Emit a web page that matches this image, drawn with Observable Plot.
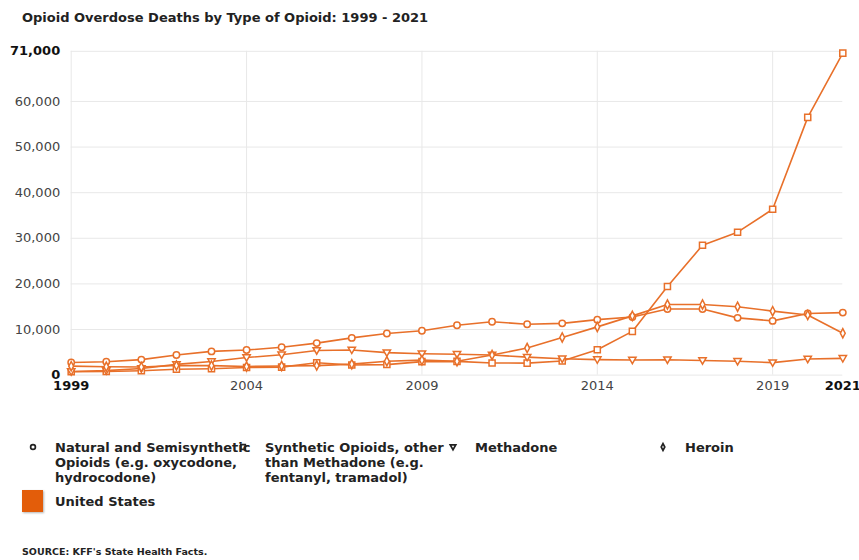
<!DOCTYPE html>
<html>
<head>
<meta charset="utf-8">
<script src="https://cdn.jsdelivr.net/npm/d3@7"></script>
<script src="https://cdn.jsdelivr.net/npm/@observablehq/plot@0.6"></script>
<style>
  html, body { margin: 0; padding: 0; background: #fff; }
  #page { position: relative; width: 859px; height: 560px; overflow: hidden; font-family: "DejaVu Sans", sans-serif; }
  #title { position: absolute; left: 22px; top: 10px; font-size: 13px; font-weight: bold; color: #222; line-height: 16px; white-space: nowrap; }
  #chart { position: absolute; left: 0; top: 36px; }
  .legend { position: absolute; left: 22px; font-family: "DejaVu Sans", sans-serif; font-weight: bold; font-size: 13px; line-height: 15px; color: #222; }
  .item { position: absolute; top: 0; width: 210px; }
  .item svg { position: absolute; left: 5px; top: 1px; overflow: visible; }
  .item .lbl { position: absolute; left: 33px; width: 200px; }
  #region { position: absolute; left: 22px; top: 490px; font-family: "DejaVu Sans", sans-serif; font-weight: bold; font-size: 13px; color: #222; }
  #region .sw { position: absolute; left: 0; top: 0; width: 21px; height: 22px; background: #e35d0a; box-shadow: 1px 1px 2px rgba(0,0,0,0.3); }
  #region .lbl { position: absolute; left: 33px; top: 4px; white-space: nowrap; }
  #source { position: absolute; left: 22px; top: 546px; font-family: "DejaVu Sans", sans-serif; font-weight: bold; font-size: 9.5px; color: #222; white-space: nowrap; }
</style>
</head>
<body>
<div id="page">
  <div id="title">Opioid Overdose Deaths by Type of Opioid: 1999 - 2021</div>
  <div id="chart"></div>
  <div class="legend" id="legend" style="top:440px"></div>
  <div id="region"><div class="sw"></div><div class="lbl">United States</div></div>
  <div id="source">SOURCE: KFF's State Health Facts.</div>
</div>
<script>
// Overdose deaths in the United States, by type of opioid
const years = [1999, 2000, 2001, 2002, 2003, 2004, 2005, 2006, 2007, 2008, 2009, 2010,
               2011, 2012, 2013, 2014, 2015, 2016, 2017, 2018, 2019, 2020, 2021];
const natural = [2749, 2917, 3401, 4416, 5195, 5500, 6100, 7017, 8158, 9119, 9738, 10943,
                 11693, 11140, 11346, 12159, 12727, 14487, 14495, 12552, 11886, 13500, 13700];
const synthetic = [730, 782, 957, 1295, 1400, 1664, 1742, 2707, 2213, 2306, 2946, 3007,
                   2666, 2628, 3105, 5544, 9580, 19413, 28466, 31335, 36359, 56516, 70601];
const methadone = [784, 988, 1456, 2358, 2972, 3845, 4460, 5406, 5518, 4924, 4696, 4577,
                   4418, 3932, 3591, 3400, 3301, 3373, 3194, 3023, 2740, 3543, 3678];
const heroin = [1960, 1842, 1779, 2089, 2080, 1878, 2009, 2088, 2399, 3041, 3278, 3036,
                4397, 5925, 8257, 10574, 12989, 15469, 15482, 14996, 14019, 13165, 9173];

const seriesNames = [
  "Natural and Semisynthetic Opioids (e.g. oxycodone, hydrocodone)",
  "Synthetic Opioids, other than Methadone (e.g. fentanyl, tramadol)",
  "Methadone",
  "Heroin"
];
const seriesValues = [natural, synthetic, methadone, heroin];

const xTicks = [1999, 2004, 2009, 2014, 2019, 2021];
const xTicksBold = [1999, 2021];
const yTicks = [0, 10000, 20000, 30000, 40000, 50000, 60000, 71000];
const yTicksBold = [0, 71000];
const gridYears = [1999, 2004, 2009, 2014, 2019];

const lineColor = "#e8702a";

// Marker shapes: open circle, open square, downward triangle, narrow diamond
const triangleDown = {
  draw(ctx, size) {
    const r = Math.sqrt(size / Math.PI);
    ctx.moveTo(-r * 1.15, -r * 0.85);
    ctx.lineTo(r * 1.15, -r * 0.85);
    ctx.lineTo(0, r * 1.15);
    ctx.closePath();
  }
};
const thinDiamond = {
  draw(ctx, size) {
    const r = Math.sqrt(size / Math.PI);
    ctx.moveTo(0, -r * 1.45);
    ctx.lineTo(r * 0.75, 0);
    ctx.lineTo(0, r * 1.45);
    ctx.lineTo(-r * 0.75, 0);
    ctx.closePath();
  }
};
const circle = d3.symbolCircle;
const square = {
  draw(ctx, size) {
    const r = Math.sqrt(size / Math.PI) * 0.95;
    ctx.rect(-r, -r, 2 * r, 2 * r);
  }
};
const seriesSymbols = [circle, square, triangleDown, thinDiamond];

const rows = seriesNames.flatMap((name, i) =>
  years.map((year, j) => ({series: name, year, value: seriesValues[i][j]})));

const fmt = d3.format(",");

const chart = Plot.plot({
  width: 859,
  height: 370,
  marginLeft: 70.7,
  marginRight: 16.7,
  marginTop: 14.8,
  marginBottom: 31.4,
  style: {fontFamily: "DejaVu Sans", fontSize: "13px", color: "#444", background: "white", overflow: "visible"},
  x: {domain: [1999, 2021]},
  y: {domain: [0, 71000]},
  marks: [
    Plot.ruleY(yTicks, {stroke: "#e8e8e8", strokeWidth: 1}),
    Plot.ruleX(gridYears, {y1: 0, y2: 71000, stroke: "#e8e8e8", strokeWidth: 1}),
    Plot.line(rows, {x: "year", y: "value", z: "series", stroke: lineColor, strokeWidth: 1.6}),
    ...seriesNames.map((name, i) =>
      Plot.dot(rows.filter(d => d.series === name), {
        x: "year", y: "value", symbol: seriesSymbols[i], r: 3.2,
        fill: "white", stroke: lineColor, strokeWidth: 1.5
      })),
    Plot.axisY(yTicks.filter(t => !yTicksBold.includes(t)), {tickSize: 0, tickPadding: 11, tickFormat: fmt, fill: "#444", label: null}),
    Plot.axisY(yTicksBold, {tickSize: 0, tickPadding: 11, tickFormat: fmt, fill: "#111", fontWeight: "bold", label: null}),
    Plot.axisX(xTicks.filter(t => !xTicksBold.includes(t)), {tickSize: 0, tickPadding: 5.5, tickFormat: d => String(d), fill: "#444", label: null}),
    Plot.axisX(xTicksBold, {tickSize: 0, tickPadding: 5.5, tickFormat: d => String(d), fill: "#111", fontWeight: "bold", label: null})
  ]
});
document.getElementById("chart").appendChild(chart);

// Legend: one column per opioid type, dark marker then wrapped label
const legend = d3.select("#legend");
seriesNames.forEach((name, i) => {
  const item = legend.append("div").attr("class", "item").style("left", `${i * 210}px`);
  const svg = item.append("svg").attr("width", 12).attr("height", 12);
  svg.append("path")
    .attr("transform", "translate(6,6)")
    .attr("d", d3.symbol(seriesSymbols[i], Math.PI * 2.4 * 2.4)())
    .attr("fill", "none").attr("stroke", "#222").attr("stroke-width", 1.7);
  item.append("div").attr("class", "lbl").text(name);
});
</script>
</body>
</html>
